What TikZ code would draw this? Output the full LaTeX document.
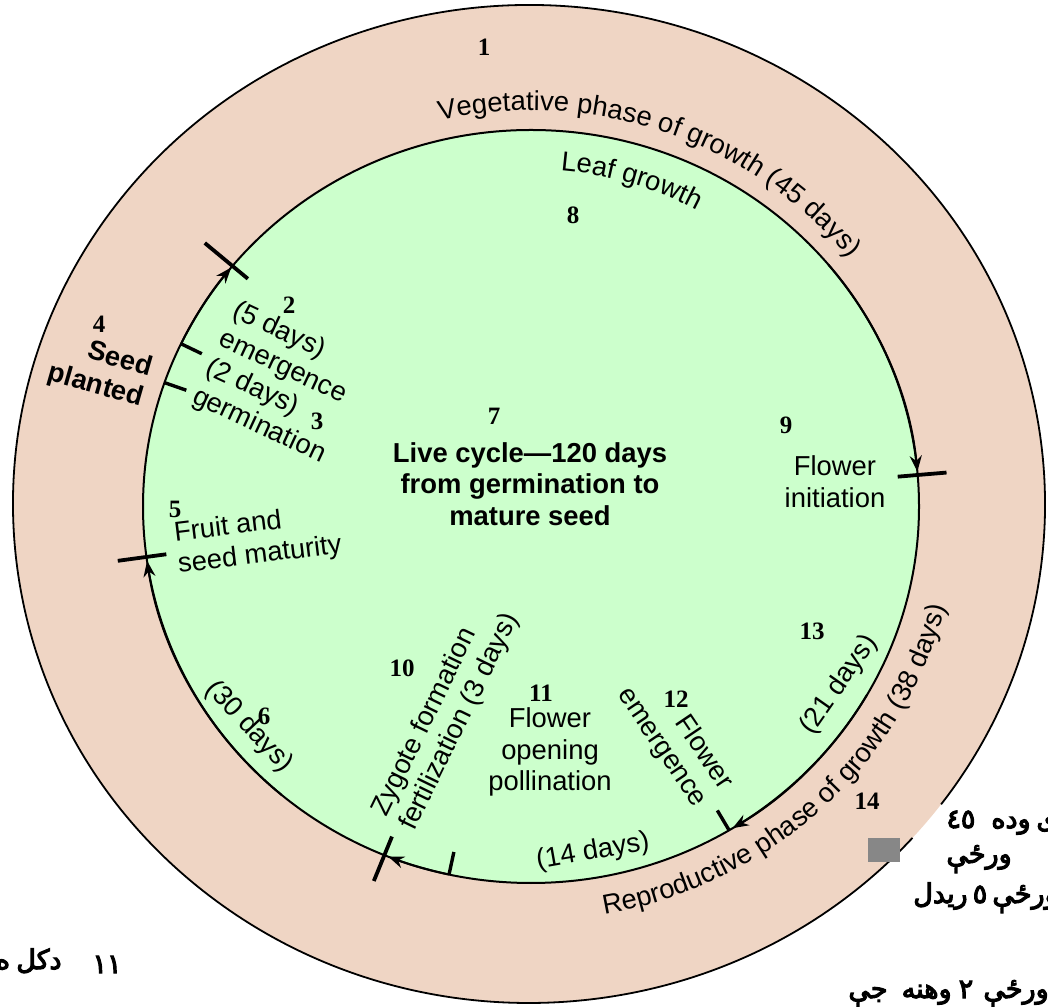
\documentclass[tikz,border=0pt]{standalone}
\usepackage{fontspec}
\setmainfont{Liberation Serif}
\setsansfont{Liberation Sans}
\newfontfamily\pashto[Script=Arabic,FakeBold=4]{DejaVu Sans}
\TeXXeTstate=1
\usetikzlibrary{arrows.meta, decorations.text}

\newcommand{\lblfont}{\sffamily\fontsize{13.7}{15.8}\selectfont}
\newcommand{\numfont}{\rmfamily\bfseries\fontsize{12.5}{14}\selectfont}
\newcommand{\psfont}{\pashto\fontsize{13.5}{15}\selectfont}

\definecolor{bandpink}{RGB}{239,213,196}
\definecolor{leafgreen}{RGB}{204,255,204}
\definecolor{boxgrey}{RGB}{135,135,135}

\tikzset{
  lbl/.style={font=\lblfont, inner sep=0pt},
  num/.style={font=\numfont, inner sep=0pt},
  ps/.style={font=\psfont, inner sep=0pt, text height=8pt, text depth=3pt},
  tickbig/.style={line width=1.9pt},
  ticksmall/.style={line width=1.7pt},
  cyc/.style={line width=1pt, -{Stealth[length=8pt,width=6pt]}},
}

\begin{document}
\begin{tikzpicture}[x=0.5pt, y=0.5pt]
    \useasboundingbox (0,0) rectangle (1048,1006);
    \clip (0,0) rectangle (1048,1006);
    \coordinate (O) at (529,502);
    \coordinate (C) at (531,499.5);

    % Outer band
    \fill[bandpink] (O) ellipse [x radius=516, y radius=499];
    \draw[line width=0.9pt, shift={(O)}] (-37:516 and 499)
        arc[start angle=-37, end angle=318, x radius=516, y radius=499];

    % Inner cycle
    \fill[leafgreen] (C) ellipse [x radius=388, y radius=376.5];
    \draw[line width=1pt] (C) ellipse [x radius=388, y radius=376.5];

    \begin{scope}[shift={(C)}]
        % Ticks
        \foreach \a/\rxo/\ryo in {140.3/424/412.5, 4.8/417/405.5, 187.7/417/405.5, 247.8/416/404.5}
            \draw[tickbig] (\a:{\rxo} and {\ryo}) -- (\a:368 and 356.5);
        \foreach \a in {154.4, 160.8, 257.8, 300.7}
            \draw[ticksmall] (\a:388 and 376.5) -- (\a:365 and 353.5);

        % Arrows along the cycle
        \draw[cyc] (154.4:388 and 376.5) arc[start angle=154.4, end angle=140.6, x radius=388, y radius=376.5];
        \draw[cyc] (40:388 and 376.5) arc[start angle=40, end angle=5.3, x radius=388, y radius=376.5];
        \draw[cyc] (330:388 and 376.5) arc[start angle=330, end angle=301.3, x radius=388, y radius=376.5];
        \draw[cyc] (257.8:388 and 376.5) arc[start angle=257.8, end angle=248.4, x radius=388, y radius=376.5];
        \draw[cyc] (230:388 and 376.5) arc[start angle=230, end angle=188.3, x radius=388, y radius=376.5];

        % Curved labels
        \path[decorate, decoration={text along path, text align=center,
            text={|\lblfont|Vegetative phase of growth (45 days)}}]
            (115.75:408 and 396) arc[start angle=115.75, end angle=25.75, x radius=408, y radius=396];
        \path[decorate, decoration={text along path, text align=center,
            text={|\lblfont|Leaf growth}}]
            (103.2:347.6 and 337.3) arc[start angle=103.2, end angle=43.2, x radius=347.6, y radius=337.3];
        \path[decorate, decoration={text along path, text align=center,
            text={|\lblfont|Reproductive phase of growth (38 days)}}]
            (263.2:427 and 414) arc[start angle=263.2, end angle=363.2, x radius=427, y radius=414];
    \end{scope}

    % Labels
    \node[lbl, font=\lblfont\bfseries, align=center] (life) at (530,522)
        {Live cycle—120 days\\from germination to\\mature seed};
    \node[lbl, rotate=-25, align=left] (germ) at (279,623)
        {(5 days)\\emergence\\(2 days)\\germination};
    \node[lbl, font=\lblfont\bfseries, rotate=-16, align=right] (seed) at (100,635) {Seed\\planted};
    \node[lbl, rotate=7, align=left] (fruit) at (258,466) {Fruit and\\seed maturity};
    \node[lbl, rotate=-47] (d30) at (249,279) {(30 days)};
    \node[lbl, rotate=64, align=left] (zyg) at (446,291) {Zygote formation\\fertilization (3 days)};
    \node[lbl, align=center] (open) at (550,254) {Flower\\opening\\pollination};
    \node[lbl, rotate=-56, align=right] (emer) at (675,267) {Flower\\emergence};
    \node[lbl, rotate=55] (d21) at (839,321) {(21 days)};
    \node[lbl, rotate=10] (d14) at (593,154) {(14 days)};
    \node[lbl, align=center] (init) at (835,524) {Flower\\initiation};

    % Numbers
    \node[num] (n1) at (484,959) {1};
    \node[num] (n2) at (289,701) {2};
    \node[num] (n3) at (317,585) {3};
    \node[num] (n4) at (99,682) {4};
    \node[num] (n5) at (175,497) {5};
    \node[num] (n6) at (264,290) {6};
    \node[num] (n7) at (494,590) {7};
    \node[num] (n8) at (573,791) {8};
    \node[num] (n9) at (786,581) {9};
    \node[num] (n10) at (402,338) {10};
    \node[num] (n11) at (541,313) {11};
    \node[num] (n12) at (676,307) {12};
    \node[num] (n13) at (812,375) {13};
    \node[num] (n14) at (867,205) {14};

    % Grey patch
    \fill[boxgrey] (868,144) rectangle (900,168);

    % Side notes
    \node[ps, anchor=west] (ps1a) at (946,183) {٤٥};
    \node[ps, anchor=east] (ps1b) at (1031,183) {وده};
    \node[ps, anchor=west] (ps1c) at (1036,183) {ی};
    \node[ps, anchor=west] (ps2) at (946,148) {ورځې};
    \node[ps, anchor=east] (ps3a) at (968,108) {ريدل};
    \node[ps] (ps3b) at (980,108) {٥};
    \node[ps, anchor=west] (ps3c) at (992,108) {ورځې};
    \node[ps, anchor=east] (ps4a) at (888,13) {جې};
    \node[ps, anchor=east] (ps4b) at (952,13) {وهنه};
    \node[ps] (ps4c) at (966,13) {٢};
    \node[ps, anchor=west] (ps4d) at (983,13) {ورځې};
    \node[ps] (ps5a) at (3,42) {ه};
    \node[ps, anchor=east] (ps5b) at (62,42) {دکل};
    \node[ps] (ps6) at (107,38) {١١};
\end{tikzpicture}
\end{document}
